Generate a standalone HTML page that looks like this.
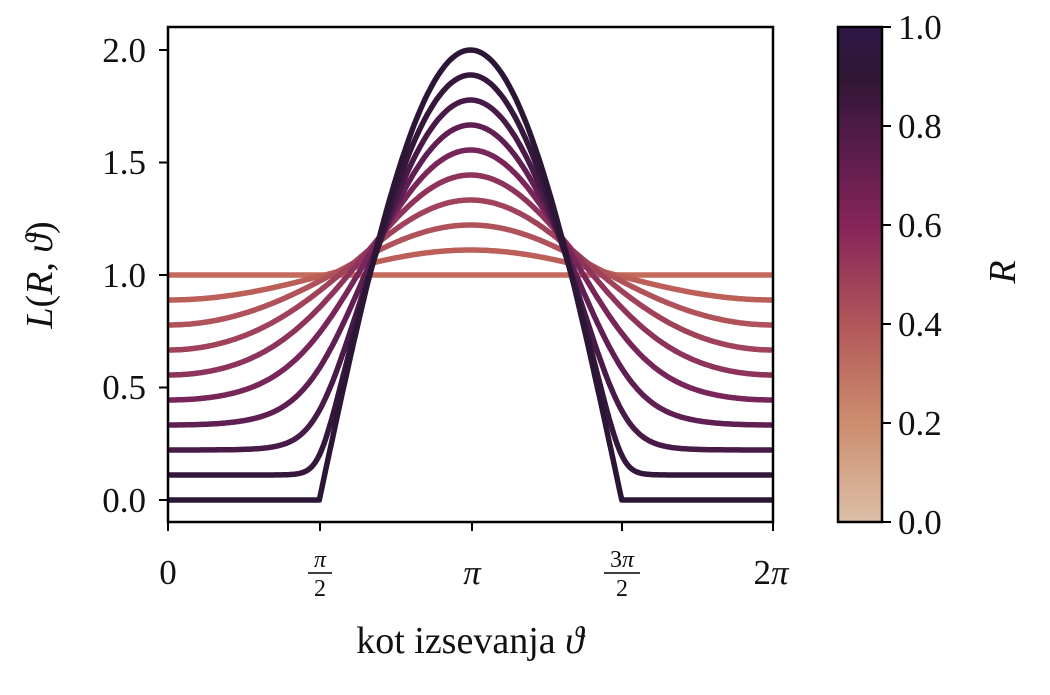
<!DOCTYPE html>
<html><head><meta charset="utf-8"><style>
body{margin:0;background:#fff}
svg text{font-family:"Liberation Serif",serif;fill:#111}
</style></head><body>
<svg id="s" width="1050" height="690" xmlns="http://www.w3.org/2000/svg">
<defs><linearGradient id="cb" x1="0" y1="1" x2="0" y2="0">
<stop offset="0" stop-color="#dcbfa8"/>
<stop offset="0.2" stop-color="#cc8d6e"/>
<stop offset="0.4" stop-color="#b2575a"/>
<stop offset="0.6" stop-color="#86245a"/>
<stop offset="0.8" stop-color="#4c1a47"/>
<stop offset="0.9" stop-color="#301634"/>
<stop offset="1" stop-color="#2e1848"/>
</linearGradient>
<clipPath id="c"><rect x="168" y="27" width="605" height="495"/></clipPath></defs>
<g id="lines" clip-path="url(#c)"></g>
<rect x="168" y="27" width="605" height="495" fill="none" stroke="#000" stroke-width="2.5"/>
<g stroke="#000" stroke-width="2">
<line x1="168" y1="522" x2="168" y2="531"/><line x1="320" y1="522" x2="320" y2="531"/><line x1="472" y1="522" x2="472" y2="531"/><line x1="622" y1="522" x2="622" y2="531"/><line x1="773" y1="522" x2="773" y2="531"/>
<line x1="159" y1="50" x2="168" y2="50"/><line x1="159" y1="162.5" x2="168" y2="162.5"/><line x1="159" y1="275" x2="168" y2="275"/><line x1="159" y1="387.5" x2="168" y2="387.5"/><line x1="159" y1="500" x2="168" y2="500"/>
</g>
<g font-size="35" text-anchor="end">
<text x="146" y="62">2.0</text><text x="146" y="174">1.5</text><text x="146" y="287">1.0</text><text x="146" y="399">0.5</text><text x="146" y="512">0.0</text>
</g>
<g font-size="35" text-anchor="middle">
<text x="168" y="584">0</text>
<text x="472" y="584" font-style="italic">π</text>
<text x="771" y="584">2<tspan font-style="italic">π</tspan></text>
</g>
<g font-size="24" text-anchor="middle">
<text x="320" y="567" font-style="italic">π</text><line x1="308" y1="573" x2="332" y2="573" stroke="#000" stroke-width="1.5"/><text x="320" y="596">2</text>
<text x="622" y="567">3<tspan font-style="italic">π</tspan></text><line x1="604" y1="573" x2="640" y2="573" stroke="#000" stroke-width="1.5"/><text x="622" y="596">2</text>
</g>
<text x="470" y="653" font-size="38" text-anchor="middle">kot izsevanja <tspan font-style="italic">ϑ</tspan></text>
<text transform="translate(52,275) rotate(-90)" font-size="38" text-anchor="middle"><tspan font-style="italic">L</tspan>(<tspan font-style="italic">R</tspan>, <tspan font-style="italic">ϑ</tspan>)</text>
<rect x="838" y="27" width="44" height="495" fill="url(#cb)" stroke="#000" stroke-width="2.5"/>
<g stroke="#000" stroke-width="2">
<line x1="882" y1="27" x2="891" y2="27"/><line x1="882" y1="126" x2="891" y2="126"/><line x1="882" y1="225" x2="891" y2="225"/><line x1="882" y1="324" x2="891" y2="324"/><line x1="882" y1="423" x2="891" y2="423"/><line x1="882" y1="522" x2="891" y2="522"/>
</g>
<g font-size="35">
<text x="898" y="39">1.0</text><text x="898" y="138">0.8</text><text x="898" y="237">0.6</text><text x="898" y="336">0.4</text><text x="898" y="435">0.2</text><text x="898" y="534">0.0</text>
</g>
<text transform="translate(1015,272) rotate(-90)" font-size="38" text-anchor="middle" font-style="italic">R</text>
</svg>
<script>
var cols=["#c46b5c","#bc5f59","#b05259","#a0435a","#8e335b","#78265a","#601f53","#481a47","#34173b","#2b1636"];
var g=document.getElementById('lines'),out='';
for(var i=0;i<=9;i++){
 var R=i/9,k=1.75*R/(1-R+1e-6)+0.01,d='';
 var p=function(c){var z=-k*c;return (z>30?z:Math.log(1+Math.exp(z)))/k;};
 var p1=p(1),pm=p(-1);
 for(var j=0;j<=400;j++){
  var t=j/400*2*Math.PI,c=Math.cos(t);
  var gg=(2*p(c)-(p1+pm))/(pm-p1);
  var L=1+R*gg;
  if(i==9)L=2*Math.max(0,-c);
  var x=168+j/400*605,y=500-L*225;
  d+=(j?'L':'M')+x.toFixed(1)+' '+y.toFixed(1);
 }
 out+='<path d="'+d+'" fill="none" stroke="'+cols[i]+'" stroke-width="5.5" stroke-linejoin="round"/>';
}
g.innerHTML=out;
</script>
</body></html>
